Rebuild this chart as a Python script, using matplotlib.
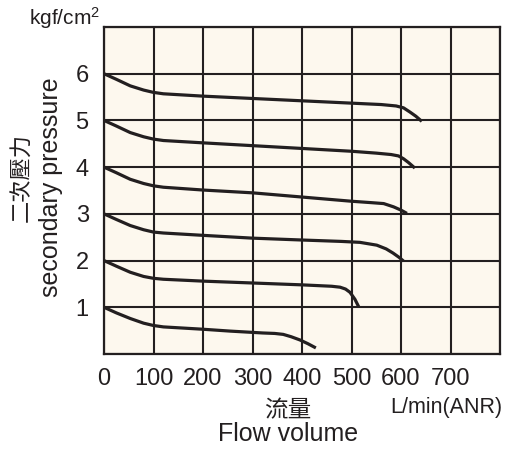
import matplotlib
matplotlib.use("Agg")
import matplotlib.pyplot as plt

# ---- data ----
flow_6 = [0, 25, 53, 80, 100, 120, 200, 300, 400, 500, 560, 590, 605, 618, 630, 642]
pres_6 = [6.0, 5.88, 5.74, 5.65, 5.60, 5.57, 5.52, 5.47, 5.42, 5.37, 5.34, 5.31, 5.27, 5.18, 5.09, 4.98]

flow_5 = [0, 25, 53, 80, 100, 120, 200, 300, 400, 500, 550, 580, 595, 605, 615, 628]
pres_5 = [5.0, 4.88, 4.74, 4.65, 4.60, 4.57, 4.52, 4.46, 4.40, 4.34, 4.30, 4.27, 4.24, 4.18, 4.10, 3.98]

flow_4 = [0, 25, 53, 80, 100, 120, 200, 300, 400, 500, 540, 565, 585, 600, 612]
pres_4 = [4.0, 3.88, 3.74, 3.65, 3.60, 3.57, 3.51, 3.45, 3.36, 3.27, 3.24, 3.22, 3.15, 3.08, 3.01]

flow_3 = [0, 25, 53, 80, 100, 120, 200, 300, 400, 480, 517, 551, 570, 584, 596, 605]
pres_3 = [3.0, 2.88, 2.75, 2.66, 2.61, 2.59, 2.54, 2.48, 2.44, 2.41, 2.39, 2.33, 2.25, 2.16, 2.07, 1.99]

flow_2 = [0, 25, 53, 80, 100, 120, 200, 300, 400, 460, 477, 488, 497, 507, 515]
pres_2 = [2.0, 1.88, 1.75, 1.66, 1.62, 1.60, 1.56, 1.52, 1.48, 1.45, 1.43, 1.39, 1.32, 1.17, 1.00]

flow_1 = [0, 25, 53, 80, 100, 120, 200, 255, 321, 345, 362, 378, 396, 412, 428]
pres_1 = [1.0, 0.88, 0.76, 0.66, 0.61, 0.58, 0.53, 0.49, 0.45, 0.44, 0.42, 0.37, 0.30, 0.22, 0.13]

x_ticks = [0, 100, 200, 300, 400, 500, 600, 700, 800]
x_tick_labels = ["0", "100", "200", "300", "400", "500", "600", "700", ""]
y_ticks = [0, 1, 2, 3, 4, 5, 6, 7]
y_tick_labels = ["", "1", "2", "3", "4", "5", "6", ""]

curves = [(flow_6, pres_6), (flow_5, pres_5), (flow_4, pres_4),
          (flow_3, pres_3), (flow_2, pres_2), (flow_1, pres_1)]

# ---- style ----
plt.rcParams['font.family'] = ['Liberation Sans', 'DejaVu Sans']
plt.rcParams['mathtext.fontset'] = 'custom'
plt.rcParams['mathtext.rm'] = 'Liberation Sans'
plt.rcParams['mathtext.it'] = 'Liberation Sans'
plt.rcParams['mathtext.default'] = 'regular'
ink = "#231F20"
bg = "#FDF8EE"

W, H = 511, 453
fig = plt.figure(figsize=(W / 100, H / 100), dpi=100)
ax = fig.add_axes([104 / W, 1 - 354 / H, (500 - 104) / W, (354 - 27) / H])
ax.set_facecolor(bg)
ax.set_xlim(0, 800)
ax.set_ylim(0, 7)

ax.set_xticks(x_ticks)
ax.set_xticklabels(x_tick_labels)
ax.set_yticks(y_ticks)
ax.set_yticklabels(y_tick_labels)
ax.tick_params(length=0, labelsize=17, colors=ink)
ax.tick_params(axis='x', pad=10)
ax.tick_params(axis='y', pad=11)

ax.grid(True, color=ink, linewidth=1.5)
ax.set_axisbelow(True)
for s in ax.spines.values():
    s.set_color(ink)
    s.set_linewidth(1.6)

for fx, py in curves:
    ax.plot(fx, py, color=ink, linewidth=2.3, solid_capstyle='butt', zorder=3)

# ---- texts ----
fig.text(100 / W, 1 - 31 / H, "kgf/cm$^{2}$", ha='right', va='bottom', fontsize=15, color=ink)
fig.text(51 / W, 1 - 187 / H, "secondary pressure", rotation=90, ha='center', va='center',
         fontsize=18, color=ink)
fig.text(22 / W, 1 - 177 / H, "二次壓力", rotation=90, ha='center', va='center',
         fontsize=16, color=ink, family=['Noto Sans CJK TC', 'DejaVu Sans'])
fig.text(288 / W, 1 - 411 / H, "流量", ha='center', va='center', fontsize=17, color=ink,
         family=['Noto Sans CJK TC', 'DejaVu Sans'])
fig.text(288 / W, 1 - 434 / H, "Flow volume", ha='center', va='center', fontsize=18, color=ink)
fig.text(502 / W, 1 - 408 / H, "L/min(ANR)", ha='right', va='center', fontsize=15.5, color=ink)

fig.savefig("out.png", dpi=100, facecolor='white')
